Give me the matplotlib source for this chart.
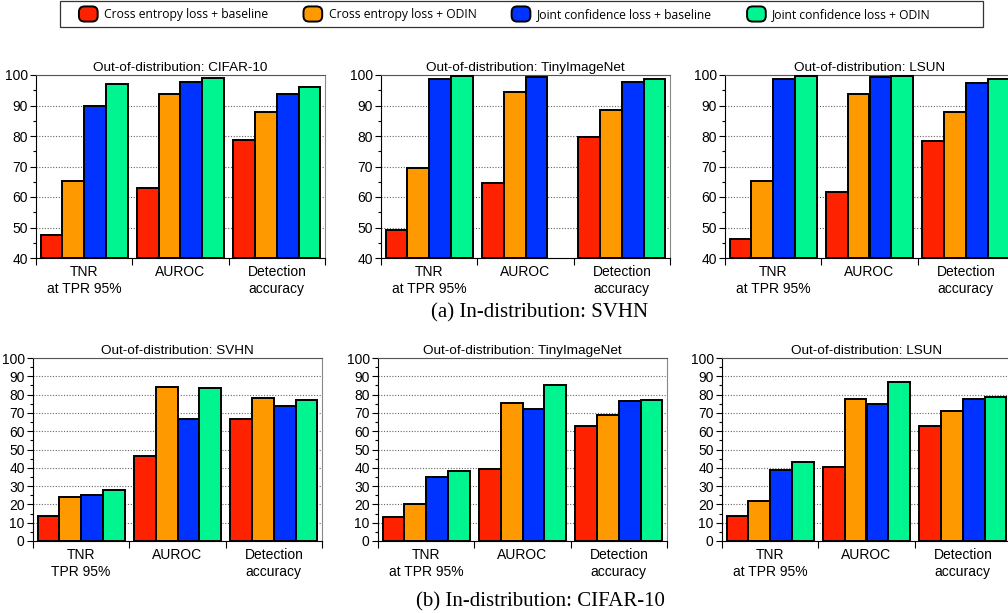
import numpy as np
import matplotlib
matplotlib.use("Agg")
import matplotlib.pyplot as plt
from matplotlib.patches import Patch, FancyBboxPatch, Rectangle
from matplotlib.legend_handler import HandlerPatch

plt.rcParams['font.family'] = ['Liberation Sans', 'DejaVu Sans']

groups = ["TNR\nat TPR 95%", "AUROC", "Detection\naccuracy"]
groups_svhn = ["TNR\nTPR 95%", "AUROC", "Detection\naccuracy"]
methods = ["Cross entropy loss + baseline", "Cross entropy loss + ODIN",
           "Joint confidence loss + baseline", "Joint confidence loss + ODIN"]
colors = ["#ff2200", "#ff9900", "#0033ff", "#00f590"]

# in-distribution SVHN (rows = metric, cols = method)
svhn_cifar = [[47.4, 65.4, 90.0, 96.9], [62.8, 93.9, 97.6, 99.1], [78.7, 87.8, 93.7, 96.0]]
svhn_tiny = [[49.1, 69.4, 98.8, 99.7], [64.6, 94.5, 99.5, np.nan], [79.7, 88.5, 97.6, 98.7]]
svhn_lsun = [[46.3, 65.4, 98.8, 99.8], [61.8, 93.9, 99.5, 99.6], [78.2, 87.8, 97.5, 98.8]]
# in-distribution CIFAR-10
cifar_svhn = [[13.7, 23.9, 25.4, 28.1], [46.5, 84.3, 66.8, 83.8], [66.6, 78.1, 73.9, 77.0]]
cifar_tiny = [[13.3, 20.3, 35.0, 38.5], [39.6, 75.5, 71.9, 85.4], [62.6, 69.0, 76.3, 77.2]]
cifar_lsun = [[13.9, 21.7, 39.0, 43.4], [40.7, 77.6, 75.0, 86.9], [63.0, 70.8, 77.7, 78.6]]

W, H = 1008, 613
fig = plt.figure(figsize=(W / 100, H / 100), dpi=100)


def panel(left_px, top_px, data, title, labels, ymin, yticks):
    ax = fig.add_axes([left_px / W, 1 - (top_px + 183) / H, 289 / W, 183 / H])
    data = np.array(data)
    x = np.arange(3)
    bw = 0.225
    for i in range(4):
        ax.bar(x + (i - 1.5) * bw, data[:, i] - ymin, bw, bottom=ymin,
               color=colors[i], edgecolor="black", linewidth=1.4, zorder=3)
    ax.set_xlim(-0.5, 2.5)
    ax.set_ylim(ymin, 100)
    ax.set_yticks(yticks)
    ax.set_yticks(np.arange(ymin + 5, 100, 10), minor=True)
    ax.set_xticks(x)
    ax.set_xticklabels(labels, fontsize=10, linespacing=1.3)
    ax.set_xticks([-0.5, 0.5, 1.5, 2.5], minor=True)
    ax.tick_params(axis="x", which="major", length=0, pad=5)
    ax.tick_params(axis="x", which="minor", length=5, width=0.8)
    ax.tick_params(axis="y", which="major", length=4, width=0.8, labelsize=10, pad=2)
    ax.tick_params(axis="y", which="minor", length=2.5, width=0.8)
    ax.yaxis.grid(True, linestyle=(0, (1, 1.5)), color="#666666", linewidth=0.8, zorder=0)
    for s in ax.spines.values():
        s.set_linewidth(0.8)
    ax.spines["top"].set_color("#555555")
    ax.spines["right"].set_color("#888888")
    ax.set_title(title, fontsize=9.7, pad=3)
    return ax


top_ticks = np.arange(40, 101, 10)
bot_ticks = np.arange(0, 101, 10)

panel(36, 75, svhn_cifar, "Out-of-distribution: CIFAR-10", groups, 40, top_ticks)
panel(381, 75, svhn_tiny, "Out-of-distribution: TinyImageNet", groups, 40, top_ticks)
panel(725, 75, svhn_lsun, "Out-of-distribution: LSUN", groups, 40, top_ticks)
panel(33, 358, cifar_svhn, "Out-of-distribution: SVHN", groups_svhn, 0, bot_ticks)
panel(378, 358, cifar_tiny, "Out-of-distribution: TinyImageNet", groups, 0, bot_ticks)
panel(722, 358, cifar_lsun, "Out-of-distribution: LSUN", groups, 0, bot_ticks)

fig.text(540 / W, 1 - 313 / H, "(a) In-distribution: SVHN", ha="center", va="center",
         fontsize=15, family="Liberation Serif")
fig.text(540 / W, 1 - 602 / H, "(b) In-distribution: CIFAR-10", ha="center", va="center",
         fontsize=15, family="Liberation Serif")


class RoundHandler(HandlerPatch):
    def create_artists(self, legend, orig_handle, xdescent, ydescent, width, height,
                       fontsize, trans):
        p = FancyBboxPatch((-xdescent, -ydescent), width, height,
                           boxstyle="round,pad=0,rounding_size=4",
                           facecolor=orig_handle.get_facecolor(), edgecolor="black",
                           linewidth=1.4, transform=trans)
        return [p]


# legend frame
fig.add_artist(Rectangle((60 / W, 1 - 27 / H), 923 / W, 26 / H, transform=fig.transFigure,
                         facecolor="white", edgecolor="#333333", linewidth=0.9))
handles = [Patch(facecolor=c, edgecolor="black") for c in colors]
leg = fig.legend(handles, methods, loc="center", bbox_to_anchor=(505 / W, 1 - 14 / H),
                 ncol=4, frameon=False,
                 handlelength=1.55, handleheight=1.55, handletextpad=0.55,
                 columnspacing=2.9, borderpad=0, borderaxespad=0,
                 handler_map={Patch: RoundHandler()},
                 prop={"family": "Open Sans", "size": 8.7})

fig.savefig("out.png", dpi=100)
